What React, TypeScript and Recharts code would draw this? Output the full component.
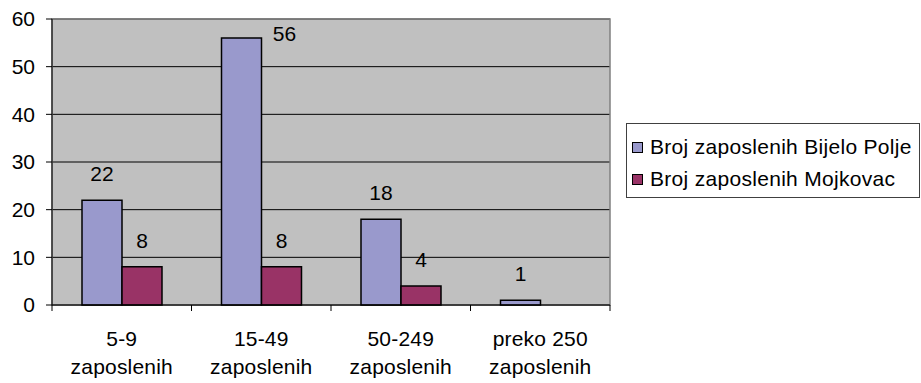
import React from 'react';
import {
  BarChart,
  Bar,
  XAxis,
  YAxis,
  CartesianGrid,
  LabelList,
  Legend,
  ReferenceArea,
} from 'recharts';

// Company size classes (two-line labels)
const categories = [
  '5-9\nzaposlenih',
  '15-49\nzaposlenih',
  '50-249\nzaposlenih',
  'preko 250\nzaposlenih',
];

// Number of companies per size class
const bijeloPolje: (number | null)[] = [22, 56, 18, 1];
const mojkovac: (number | null)[] = [8, 8, 4, null];

const seriesNames = ['Broj zaposlenih Bijelo Polje', 'Broj zaposlenih Mojkovac'];
const seriesColors = ['#9999CC', '#993366'];

const yTicks = [0, 10, 20, 30, 40, 50, 60];

const data = categories.map((c, i) => ({
  category: c,
  bp: bijeloPolje[i],
  mk: mojkovac[i],
}));

const FONT = '"Liberation Sans", Arial, sans-serif';
const FONT_SIZE = 21;
const PLOT_TOP = 19;

const CategoryTick = (props: any) => {
  const { x, y, payload, index, visibleTicksCount, width } = props;
  const half =
    payload && typeof payload.offset === 'number' && payload.offset > 0
      ? payload.offset
      : width / visibleTicksCount / 2;
  const lines = String(payload.value).split('\n');
  const isLast = index === visibleTicksCount - 1;
  return (
    <g>
      <line x1={x - half} x2={x - half} y1={y} y2={y + 6} stroke="#000" strokeWidth={1} />
      {isLast && (
        <line x1={x + half} x2={x + half} y1={y} y2={y + 6} stroke="#000" strokeWidth={1} />
      )}
      <text
        x={x}
        textAnchor="middle"
        fill="#000"
        fontFamily={FONT}
        fontSize={FONT_SIZE}
        letterSpacing={0.2}
      >
        <tspan x={x} y={y + 41}>
          {lines[0]}
        </tspan>
        <tspan x={x} y={y + 69}>
          {lines[1]}
        </tspan>
      </text>
    </g>
  );
};

// Value label above a bar; a label that would leave the plot is moved beside the bar
const renderValueLabel = (props: any) => {
  const { x, y, width, value } = props;
  if (value === null || value === undefined) return null;
  let tx = x + width / 2;
  let ty = y - 19;
  if (ty - 15 < PLOT_TOP) {
    tx = x + width + 23;
    ty = PLOT_TOP + 22;
  }
  return (
    <text
      x={tx}
      y={ty}
      textAnchor="middle"
      fill="#000"
      fontFamily={FONT}
      fontSize={FONT_SIZE}
    >
      {value}
    </text>
  );
};

const LegendBox = () => (
  <div
    style={{
      position: 'relative',
      width: 294,
      height: 75,
      boxSizing: 'border-box',
      border: '1px solid #404040',
      background: '#fff',
      fontFamily: FONT,
      fontSize: FONT_SIZE,
      color: '#000',
      letterSpacing: 0.3,
    }}
  >
    {seriesNames.map((name, i) => (
      <div
        key={name}
        style={{
          position: 'absolute',
          left: 5,
          top: 10 + i * 32,
          height: 26,
          display: 'flex',
          alignItems: 'center',
          whiteSpace: 'nowrap',
        }}
      >
        <span
          style={{
            display: 'inline-block',
            width: 11,
            height: 11,
            boxSizing: 'border-box',
            border: '1px solid #000',
            background: seriesColors[i],
            marginRight: 7,
          }}
        />
        <span>{name}</span>
      </div>
    ))}
  </div>
);

export default function App() {
  return (
    <div style={{ position: 'absolute', left: 0, top: 0, background: '#fff' }}>
      <BarChart
        width={921}
        height={383}
        data={data}
        margin={{ top: PLOT_TOP, right: 311, bottom: 0, left: 0 }}
        barCategoryGap={30}
        barGap={0}
      >
        <CartesianGrid fill="#C0C0C0" fillOpacity={1} vertical={false} stroke="#000" />
        <ReferenceArea y1={0} y2={60} fill="none" stroke="#808080" strokeWidth={1.5} />
        <XAxis
          dataKey="category"
          interval={0}
          height={78}
          tickLine={false}
          tickSize={0}
          tickMargin={0}
          axisLine={{ stroke: '#000' }}
          tick={<CategoryTick />}
        />
        <YAxis
          width={52}
          domain={[0, 60]}
          ticks={yTicks}
          interval={0}
          tickSize={6}
          tickMargin={11}
          axisLine={{ stroke: '#000' }}
          tickLine={{ stroke: '#000' }}
          tick={{ fill: '#000', fontFamily: FONT, fontSize: FONT_SIZE }}
        />
        <Legend
          layout="horizontal"
          align="center"
          verticalAlign="middle"
          wrapperStyle={{ left: 626, top: 123, width: 294, height: 75 }}
          content={<LegendBox />}
        />
        <Bar
          dataKey="bp"
          name={seriesNames[0]}
          fill={seriesColors[0]}
          stroke="#000"
          strokeWidth={1.5}
          isAnimationActive={false}
        >
          <LabelList dataKey="bp" content={renderValueLabel} />
        </Bar>
        <Bar
          dataKey="mk"
          name={seriesNames[1]}
          fill={seriesColors[1]}
          stroke="#000"
          strokeWidth={1.5}
          isAnimationActive={false}
        >
          <LabelList dataKey="mk" content={renderValueLabel} />
        </Bar>
      </BarChart>
    </div>
  );
}
